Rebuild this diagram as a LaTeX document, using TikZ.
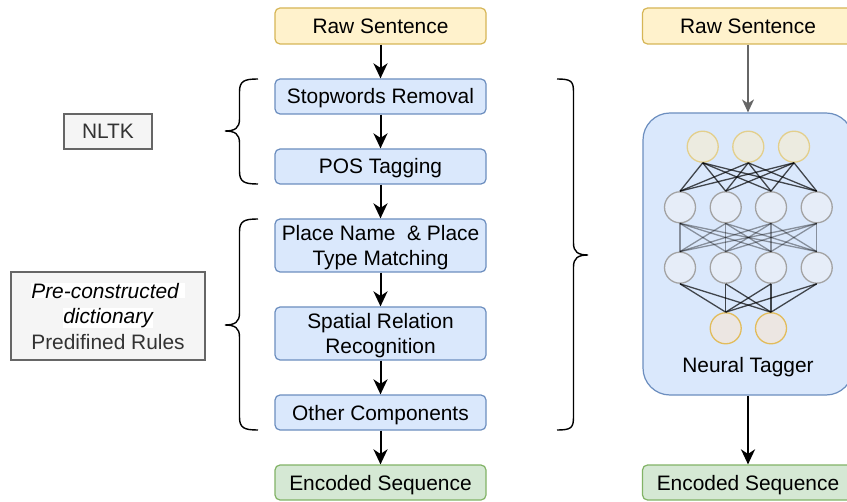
\documentclass[tikz,border=0pt]{standalone}
\usepackage{fontspec}
\setmainfont{Liberation Sans}
\usetikzlibrary{arrows.meta}
\definecolor{yfill}{HTML}{FFF2CC}
\definecolor{ydraw}{HTML}{D6B656}
\definecolor{bfill}{HTML}{DAE8FC}
\definecolor{bdraw}{HTML}{6C8EBF}
\definecolor{gfill}{HTML}{D5E8D4}
\definecolor{gdraw}{HTML}{82B366}
\definecolor{sfill}{HTML}{F5F5F5}
\definecolor{sdraw}{HTML}{666666}
\definecolor{stext}{HTML}{333333}
\definecolor{topfill}{HTML}{ECEBE0}
\definecolor{topdraw}{HTML}{E3CF8C}
\definecolor{midfill}{HTML}{E6EDF8}
\definecolor{middraw}{HTML}{A3A3A3}
\definecolor{botfill}{HTML}{ECE6E2}
\definecolor{botdraw}{HTML}{E2BC5C}
\tikzset{
  lbl/.style={font=\fontsize{20.9bp}{24.5bp}\selectfont, text height=15bp, text depth=0pt},
  box/.style={lbl, draw, rounded corners=5bp, line width=1.2bp, minimum width=211bp, inner sep=0pt, align=center},
  two/.style={text height=39.5bp},
  ybox/.style={box, fill=yfill, draw=ydraw, minimum height=36bp},
  bbox/.style={box, fill=bfill, draw=bdraw, minimum height=35bp},
  bbox2/.style={box, two, fill=bfill, draw=bdraw, minimum height=53bp},
  gbox/.style={box, fill=gfill, draw=gdraw, minimum height=35bp},
  sbox/.style={lbl, draw=sdraw, fill=sfill, text=stext, line width=1.2bp, inner sep=0pt, align=center},
  flow/.style={-{Stealth[length=15bp,width=14bp,inset=4.5bp]}, line width=2bp, black},
  gflow/.style={-{Stealth[length=13bp,width=12bp,inset=4bp]}, line width=1.3bp, sdraw},
  nn/.style={circle, minimum size=31bp, inner sep=0pt, line width=1.3bp},
  ntop/.style={nn, fill=topfill, draw=topdraw},
  nmid/.style={nn, fill=midfill, draw=middraw},
  nbot/.style={nn, fill=botfill, draw=botdraw},
  dk/.style={line width=1.3bp, black, opacity=0.7},
  lt/.style={line width=1.3bp, black, opacity=0.38},
  brace/.style={line width=1.4bp, black},
}
\begin{document}
\begin{tikzpicture}[x=1bp,y=-1bp]
\clip (0,0) rectangle (847,502);
\fill[white] (0,0) rectangle (847,502);

% left pipeline
\node[ybox] (raw1) at (380.5,26) {Raw Sentence};
\node[bbox] (stop) at (380.5,96.5) {Stopwords Removal};
\node[bbox] (pos) at (380.5,166.5) {POS Tagging};
\node[bbox2] (place) at (380.5,245.5) {Place Name~ \& Place\\Type Matching};
\node[bbox2] (spatial) at (380.5,333.5) {Spatial Relation\\Recognition};
\node[bbox] (other) at (380.5,412.5) {Other Components};
\node[gbox] (enc1) at (380.5,482.5) {Encoded Sequence};

\draw[flow] (raw1) -- (stop);
\draw[flow] (stop) -- (pos);
\draw[flow] (pos) -- (place);
\draw[flow] (place) -- (spatial);
\draw[flow] (spatial) -- (other);
\draw[flow] (other) -- (enc1);

% side boxes
\node[sbox, minimum width=88bp, minimum height=35bp] (nltk) at (108,131.5) {NLTK};
\node[sbox, minimum width=194bp, minimum height=88bp, text height=66bp,
      font=\fontsize{20.9bp}{25.5bp}\selectfont] (dict) at (108,316)
  {\setlength{\fboxsep}{0pt}\colorbox{white}{\color{black}\itshape Pre-constructed }\\
   \setlength{\fboxsep}{0pt}\colorbox{white}{\color{black}\itshape dictionary}\\
   Predifined Rules};

% braces (left)
\draw[brace] (258,79) .. controls (244,79) and (239.5,81) .. (239.5,92)
  -- (239.5,119) .. controls (239.5,128) and (235,131) .. (225,131)
  .. controls (235,131) and (239.5,134) .. (239.5,143)
  -- (239.5,171) .. controls (239.5,182) and (244,184) .. (258,184);
\draw[brace] (258,219) .. controls (244,219) and (239.5,221) .. (239.5,232)
  -- (239.5,313) .. controls (239.5,322) and (235,325) .. (225,325)
  .. controls (235,325) and (239.5,328) .. (239.5,337)
  -- (239.5,417) .. controls (239.5,428) and (244,430) .. (258,430);
% brace (right)
\draw[brace] (557,79) .. controls (571,79) and (573.5,81) .. (573.5,92)
  -- (573.5,243) .. controls (573.5,252) and (578,255) .. (588,255)
  .. controls (578,255) and (573.5,258) .. (573.5,267)
  -- (573.5,417) .. controls (573.5,428) and (571,430) .. (557,430);

% right pipeline
\node[ybox] (raw2) at (748,26) {Raw Sentence};
\node[draw=bdraw, fill=bfill, line width=1.2bp, rounded corners=27bp,
      minimum width=210bp, minimum height=282bp, inner sep=0pt] (neural) at (748,254) {};
\node[gbox] (enc2) at (748,482.5) {Encoded Sequence};
\node[lbl] (ntlabel) at (748,365) {Neural Tagger};

\draw[gflow] (raw2) -- (neural);
\draw[flow] (neural) -- (enc2);

% network
\node[ntop] (a1) at (702.7,146.7) {};
\node[ntop] (a2) at (748.3,146.7) {};
\node[ntop] (a3) at (794,146.7) {};
\node[nmid] (b1) at (680,207.3) {};
\node[nmid] (b2) at (725.7,207.3) {};
\node[nmid] (b3) at (771,207.3) {};
\node[nmid] (b4) at (816.7,207.3) {};
\node[nmid] (c1) at (680,267.7) {};
\node[nmid] (c2) at (725.7,267.7) {};
\node[nmid] (c3) at (771,267.7) {};
\node[nmid] (c4) at (816.7,267.7) {};
\node[nbot] (d1) at (725.7,328.3) {};
\node[nbot] (d2) at (771,328.3) {};

\foreach \p in {a1,a2,a3}{\foreach \q in {b1,b2,b3,b4}{\draw[dk] (\p.south) -- (\q.north);}}
\foreach \p in {b1,b2,b3,b4}{\foreach \q in {c1,c2,c3,c4}{\draw[lt] (\p.south) -- (\q.north);}}
\foreach \p in {c1,c2,c3,c4}{\foreach \q in {d1,d2}{\draw[dk] (\p.south) -- (\q.north);}}
\end{tikzpicture}
\end{document}
